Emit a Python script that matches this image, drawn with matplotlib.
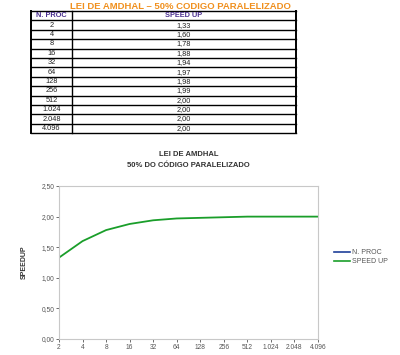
import matplotlib.pyplot as plt
from matplotlib.lines import Line2D

plt.rcParams["font.family"] = ["Liberation Sans", "DejaVu Sans"]

n_proc = ["2", "4", "8", "16", "32", "64", "128", "256", "512", "1.024", "2.048", "4.096"]
speed_up = [1.33, 1.60, 1.78, 1.88, 1.94, 1.97, 1.98, 1.99, 2.00, 2.00, 2.00, 2.00]
y_ticks = [0.0, 0.5, 1.0, 1.5, 2.0, 2.5]

GREEN = "#1a9e2a"
BLUE = "#1f3f99"
ORANGE = "#f0901e"
PURPLE = "#4a2f8f"
GRAY = "#c8c8c8"

fig = plt.figure(figsize=(4.0, 3.55), dpi=100)

# ---------------- table ----------------
ax_t = fig.add_axes([0.0775, 0.625, 0.6625, 0.344])
ax_t.set_xlim(0, 1)
n_rows = len(n_proc) + 1
ax_t.set_ylim(n_rows, 0)
ax_t.axis("off")
col_split = 0.155

for i in range(n_rows + 1):
    ax_t.plot([0, 1], [i, i], color="black", lw=1.0, clip_on=False)
ax_t.plot([0, 0], [0, n_rows], color="black", lw=1.4, clip_on=False)
ax_t.plot([1, 1], [0, n_rows], color="black", lw=1.4, clip_on=False)
ax_t.plot([col_split, col_split], [0, n_rows], color="black", lw=1.0, clip_on=False)

ax_t.text(col_split / 2, 0.5, "N. PROC", ha="center", va="center",
          fontsize=5.3, color=PURPLE, fontweight="bold")
ax_t.text((1 + col_split) / 2, 0.5, "SPEED UP", ha="center", va="center",
          fontsize=5.3, color=PURPLE, fontweight="bold")
for i, (n, s) in enumerate(zip(n_proc, speed_up)):
    ax_t.text(col_split / 2, i + 1.5, n, ha="center", va="center",
              fontsize=5.3, color="#222222")
    ax_t.text((1 + col_split) / 2, i + 1.5, f"{s:.2f}".replace(".", ","),
              ha="center", va="center", fontsize=5.3, color="#222222")

fig.text(0.45, 0.9755, "LEI DE AMDHAL \u2013 50% CODIGO PARALELIZADO",
         ha="center", va="baseline", fontsize=6.8, color=ORANGE, fontweight="bold")

# ---------------- chart ----------------
ax = fig.add_axes([0.1475, 0.045, 0.6475, 0.431])
x = list(range(len(n_proc)))
ax.plot(x, speed_up, color=GREEN, lw=1.3)
ax.set_xlim(0, len(n_proc) - 1)
ax.set_ylim(0, 2.5)
ax.set_xticks(x)
ax.set_xticklabels(n_proc)
ax.set_yticks(y_ticks)
ax.set_yticklabels([f"{v:.2f}".replace(".", ",") for v in y_ticks])
ax.tick_params(labelsize=4.8, colors="#555555", length=2, width=0.6, pad=1.5)
for s in ax.spines.values():
    s.set_color(GRAY)
    s.set_linewidth(0.8)
ax.set_ylabel("SPEEDUP", fontsize=5, fontweight="bold", color="#333333", labelpad=10)
ax.set_title("LEI DE AMDHAL\n50% DO CÓDIGO PARALELIZADO", fontsize=5.5,
             fontweight="bold", color="#333333", pad=14, linespacing=1.8)

handles = [Line2D([], [], color=BLUE, lw=1.2), Line2D([], [], color=GREEN, lw=1.2)]
fig.legend(handles, ["N. PROC", "SPEED UP"], loc="center left",
           bbox_to_anchor=(0.82, 0.275), frameon=False, fontsize=5,
           handlelength=2.2, handletextpad=0.3, labelspacing=0.3,
           labelcolor="#555555")

fig.savefig("out.png", dpi=100, facecolor="white")
